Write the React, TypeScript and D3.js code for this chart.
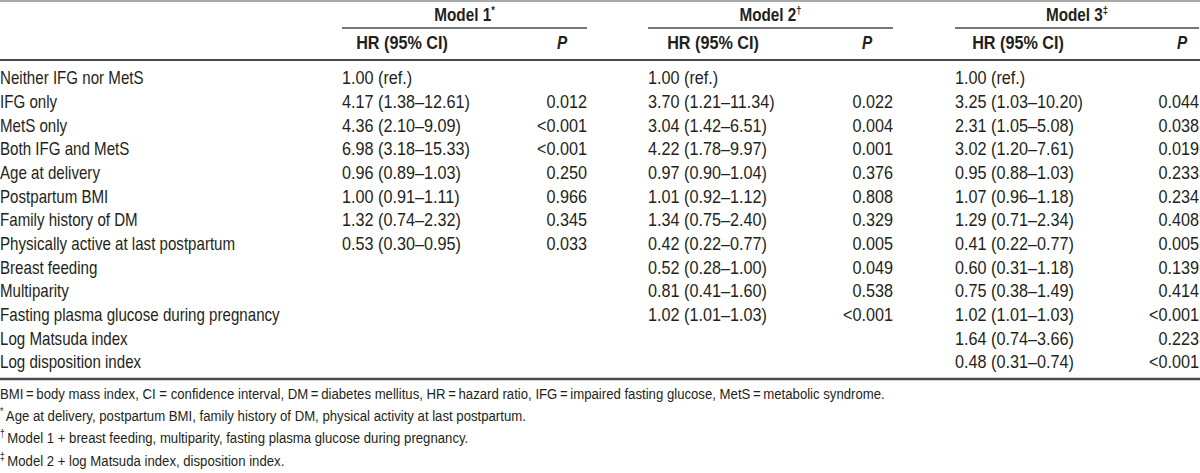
import React from "react";
import * as d3 from "d3";

const rowLabels = [
  "Neither IFG nor MetS",
  "IFG only",
  "MetS only",
  "Both IFG and MetS",
  "Age at delivery",
  "Postpartum BMI",
  "Family history of DM",
  "Physically active at last postpartum",
  "Breast feeding",
  "Multiparity",
  "Fasting plasma glucose during pregnancy",
  "Log Matsuda index",
  "Log disposition index",
];

const modelNames = ["Model 1", "Model 2", "Model 3"];
const modelMarks = ["*", "\u2020", "\u2021"];

const model1HR = ["1.00 (ref.)", "4.17 (1.38–12.61)", "4.36 (2.10–9.09)", "6.98 (3.18–15.33)", "0.96 (0.89–1.03)", "1.00 (0.91–1.11)", "1.32 (0.74–2.32)", "0.53 (0.30–0.95)", "", "", "", "", ""];
const model1P = ["", "0.012", "<0.001", "<0.001", "0.250", "0.966", "0.345", "0.033", "", "", "", "", ""];
const model2HR = ["1.00 (ref.)", "3.70 (1.21–11.34)", "3.04 (1.42–6.51)", "4.22 (1.78–9.97)", "0.97 (0.90–1.04)", "1.01 (0.92–1.12)", "1.34 (0.75–2.40)", "0.42 (0.22–0.77)", "0.52 (0.28–1.00)", "0.81 (0.41–1.60)", "1.02 (1.01–1.03)", "", ""];
const model2P = ["", "0.022", "0.004", "0.001", "0.376", "0.808", "0.329", "0.005", "0.049", "0.538", "<0.001", "", ""];
const model3HR = ["1.00 (ref.)", "3.25 (1.03–10.20)", "2.31 (1.05–5.08)", "3.02 (1.20–7.61)", "0.95 (0.88–1.03)", "1.07 (0.96–1.18)", "1.29 (0.71–2.34)", "0.41 (0.22–0.77)", "0.60 (0.31–1.18)", "0.75 (0.38–1.49)", "1.02 (1.01–1.03)", "1.64 (0.74–3.66)", "0.48 (0.31–0.74)"];
const model3P = ["", "0.044", "0.038", "0.019", "0.233", "0.234", "0.408", "0.005", "0.139", "0.414", "<0.001", "0.223", "<0.001"];

const footnoteMarks = ["", "*", "\u2020", "\u2021"];
const footnotes = [
  "BMI\u2009=\u2009body mass index, CI = confidence interval, DM\u2009=\u2009diabetes mellitus, HR\u2009=\u2009hazard ratio, IFG\u2009=\u2009impaired fasting glucose, MetS\u2009=\u2009metabolic syndrome.",
  "Age at delivery, postpartum BMI, family history of DM, physical activity at last postpartum.",
  "Model 1 + breast feeding, multiparity, fasting plasma glucose during pregnancy.",
  "Model 2 + log Matsuda index, disposition index.",
];

const W = 1200;
const H = 473;
const FONT = "'Liberation Sans', Arial, sans-serif";
const TEXT = "#231f20";
const LINE = "#4a4a4a";
const SX = 0.85; // horizontal condensing to mimic a condensed typeface

const groups = [
  { hr: model1HR, p: model1P },
  { hr: model2HR, p: model2P },
  { hr: model3HR, p: model3P },
];
const groupLeft = [342, 648, 955];
const groupRight = [587, 893, 1199];
const hrHeadX = [402, 713, 1018];
const pHeadX = [562, 867, 1182];

function T({ x, y, sx = SX, children, ...rest }: any) {
  return (
    <text transform={`translate(${x},${y}) scale(${sx},1)`} {...rest}>
      {children}
    </text>
  );
}

export default function App() {
  const y = d3
    .scalePoint<string>()
    .domain(rowLabels)
    .range([78, 78 + 23.67 * (rowLabels.length - 1)]);
  const fy = d3
    .scalePoint<number>()
    .domain(footnotes.map((_, i) => i))
    .range([393, 460]);
  const base = 6.3;

  return (
    <svg
      width={W}
      height={H}
      style={{ position: "absolute", left: 0, top: 0, background: "#fff" }}
      fontFamily={FONT}
    >
      <rect width={W} height={H} fill="#fff" />
      <line x1={0} x2={W} y1={1} y2={1} stroke="#a8a8a8" strokeWidth={2} />
      {modelNames.map((m, g) => (
        <g key={m}>
          <T
            x={(groupLeft[g] + groupRight[g]) / 2}
            y={21}
            textAnchor="middle"
            fontSize={18}
            fontWeight="bold"
            fill={TEXT}
          >
            {m}
            <tspan fontSize={11} dy={-7}>{modelMarks[g]}</tspan>
          </T>
          <line x1={groupLeft[g]} x2={groupRight[g]} y1={28} y2={28} stroke={LINE} strokeWidth={1.5} />
          <T x={hrHeadX[g]} y={49} textAnchor="middle" fontSize={18} fontWeight="bold" fill={TEXT} sx={0.9}>
            HR (95% CI)
          </T>
          <T x={pHeadX[g]} y={49} textAnchor="middle" fontSize={18} fontWeight="bold" fontStyle="italic" fill={TEXT}>
            P
          </T>
        </g>
      ))}
      <line x1={0} x2={W} y1={60} y2={60} stroke={LINE} strokeWidth={2} />
      {rowLabels.map((lab, i) => (
        <g key={lab}>
          <T x={0} y={(y(lab) as number) + base} fontSize={18} fill={TEXT} sx={0.84}>
            {lab}
          </T>
          {groups.map((gr, g) => (
            <g key={g}>
              {gr.hr[i] && (
                <T x={groupLeft[g]} y={(y(lab) as number) + base} fontSize={18} fill={TEXT} sx={0.9}>
                  {gr.hr[i]}
                </T>
              )}
              {gr.p[i] && (
                <T
                  x={groupRight[g]}
                  y={(y(lab) as number) + base}
                  fontSize={18}
                  fill={TEXT}
                  textAnchor="end"
                  sx={0.9}
                >
                  {gr.p[i]}
                </T>
              )}
            </g>
          ))}
        </g>
      ))}
      <line x1={0} x2={W} y1={379} y2={379} stroke={LINE} strokeWidth={2.5} />
      {footnotes.map((f, i) => (
        <T key={i} x={0} y={(fy(i) as number) + 5.5} fontSize={15.5} fill={TEXT}>
          {footnoteMarks[i] && (
            <tspan fontSize={10} dy={-6}>{footnoteMarks[i]}</tspan>
          )}
          {footnoteMarks[i] ? (
            <tspan dx={3} dy={6}>{f}</tspan>
          ) : (
            f
          )}
        </T>
      ))}
    </svg>
  );
}
